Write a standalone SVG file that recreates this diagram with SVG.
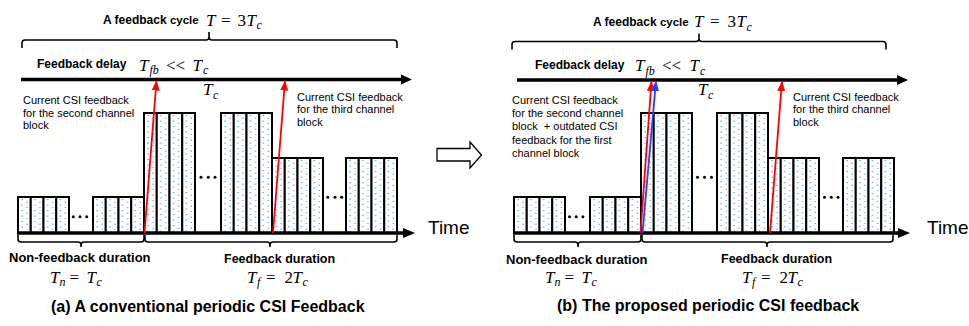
<svg xmlns="http://www.w3.org/2000/svg" width="969" height="326" viewBox="0 0 969 326">
<style>
.t{font-family:"Liberation Sans",Arial,sans-serif;font-size:11px;fill:#000}
.tm{font-family:"Liberation Sans",Arial,sans-serif;font-size:19px;fill:#000}
.b{font-family:"Liberation Sans",Arial,sans-serif;font-weight:bold;fill:#000}
.m{font-family:"Liberation Serif","DejaVu Serif",serif;font-style:italic;font-size:17px;fill:#000}
.s{font-size:12px}
.u{font-style:normal}
.col{fill:url(#dots);stroke:#000;stroke-width:2}
.brace{fill:none;stroke:#000;stroke-width:1.6}
.ax{stroke:#000;stroke-width:3.5}
.red{stroke:#ff0000;stroke-width:1.8;marker-end:url(#ahR)}
.blue{stroke:#2a3cff;stroke-width:1.8;marker-end:url(#ahB)}
.dd{fill:#000}
</style>
<defs>
<pattern id="dots" patternUnits="userSpaceOnUse" width="12.75" height="11">
<rect width="12.75" height="11" fill="#fff"/>
<rect x="3.5" y="2" width="1.2" height="1.2" fill="#3f8ef0"/>
<rect x="8.5" y="4.6" width="1.2" height="1.2" fill="#3f8ef0"/>
<rect x="3.5" y="7.5" width="1.2" height="1.2" fill="#3f8ef0"/>
<rect x="8.5" y="10.1" width="1.2" height="0.9" fill="#3f8ef0"/>
</pattern>
<marker id="ahR" markerUnits="userSpaceOnUse" markerWidth="10" markerHeight="8" refX="10" refY="4" orient="auto"><path d="M0,0 L10,4 L0,8 z" fill="#ff0000"/></marker>
<marker id="ahB" markerUnits="userSpaceOnUse" markerWidth="10" markerHeight="8" refX="10" refY="4" orient="auto"><path d="M0,0 L10,4 L0,8 z" fill="#2a3cff"/></marker>
<g id="blk-s"><rect class="col" x="0" y="0" width="12.75" height="36"/><rect class="col" x="12.75" y="0" width="12.75" height="36"/><rect class="col" x="25.5" y="0" width="12.75" height="36"/><rect class="col" x="38.25" y="0" width="12.75" height="36"/></g>
<g id="blk-t"><rect class="col" x="0" y="0" width="12.75" height="120"/><rect class="col" x="12.75" y="0" width="12.75" height="120"/><rect class="col" x="25.5" y="0" width="12.75" height="120"/><rect class="col" x="38.25" y="0" width="12.75" height="120"/></g>
<g id="blk-m"><rect class="col" x="0" y="0" width="12.75" height="75"/><rect class="col" x="12.75" y="0" width="12.75" height="75"/><rect class="col" x="25.5" y="0" width="12.75" height="75"/><rect class="col" x="38.25" y="0" width="12.75" height="75"/></g>
</defs>
<rect width="969" height="326" fill="#fff"/>

<!-- ===== Panel (a) ===== -->
<g id="a-blocks">
<g id="a-g1"><use href="#blk-s" transform="translate(18,197)"/></g>
<g id="a-g2"><use href="#blk-s" transform="translate(93,197)"/></g>
<g id="a-g3"><use href="#blk-t" transform="translate(144,113)"/></g>
<g id="a-g4"><use href="#blk-t" transform="translate(221,113)"/></g>
<g id="a-g5"><use href="#blk-m" transform="translate(272,158)"/></g>
<g id="a-g6"><use href="#blk-m" transform="translate(346,158)"/></g>
<g id="a-dots" class="dd">
<circle cx="73.3" cy="216.7" r="1.5"/><circle cx="80" cy="216.7" r="1.5"/><circle cx="86.7" cy="216.7" r="1.5"/>
<circle cx="201" cy="177.3" r="1.5"/><circle cx="208.3" cy="177.3" r="1.5"/><circle cx="215" cy="177.3" r="1.5"/>
<circle cx="327.7" cy="197.3" r="1.5"/><circle cx="335" cy="197.3" r="1.5"/><circle cx="341.7" cy="197.3" r="1.5"/>
</g>
</g>

<g id="a-title">
<text class="b" x="103" y="24" font-size="12">A feedback <tspan font-size="11.5">cycle</tspan></text>
<text class="m" y="25.5"><tspan x="206">T</tspan><tspan x="221" class="u">=</tspan><tspan x="237.5" class="u">3</tspan><tspan x="246.5">T</tspan><tspan x="256.5" dy="3.5" class="s">c</tspan></text>
<path class="brace" d="M22,48 L22,43 Q22,40 25,40 L206,40 Q209,40 209,37 L209,32 M209,37 Q209,40 212,40 L394,40 Q397,40 397,43 L397,48"/>
</g>
<g id="a-delay">
<text class="b" x="37" y="68" font-size="12">Feedback delay</text>
<text class="m" y="70.5"><tspan x="139">T</tspan><tspan x="149.5" dy="3.5" class="s">fb</tspan><tspan x="166" dy="-3.5" class="u">&lt;&lt;</tspan><tspan x="192.5">T</tspan><tspan x="203" dy="3.5" class="s">c</tspan></text>
<text class="m" y="95"><tspan x="203">T</tspan><tspan x="213" dy="3.5" class="s">c</tspan></text>
</g>
<g id="a-note1">
<text class="t" x="23" y="104">Current CSI feedback</text>
<text class="t" x="23" y="116.5">for the second channel</text>
<text class="t" x="23" y="129">block</text>
</g>
<g id="a-note2">
<text class="t" x="297" y="100.5">Current CSI feedback</text>
<text class="t" x="297" y="113">for the third channel</text>
<text class="t" x="297" y="125.5">block</text>
</g>
<g id="a-bottom">
<path class="brace" d="M18,235 L18,239 Q18,242 21,242 L78,242 Q81,242 81,245 L81,247 M81,245 Q81,242 84,242 L141,242 Q144,242 144,239 L144,235"/>
<path class="brace" d="M145,235 L145,239 Q145,242 148,242 L267,242 Q270,242 270,245 L270,247 M270,245 Q270,242 273,242 L394,242 Q397,242 397,239 L397,235"/>
<text class="b" x="9" y="262" font-size="13">Non-feedback duration</text>
<text class="m" y="282.5"><tspan x="50">T</tspan><tspan x="59.5" dy="3.5" class="s">n</tspan><tspan x="69.5" dy="-3.5" class="u">=</tspan><tspan x="86.5">T</tspan><tspan x="96.5" dy="3.5" class="s">c</tspan></text>
<text class="b" x="224" y="263" font-size="12.5">Feedback duration</text>
<text class="m" y="282.5"><tspan x="247">T</tspan><tspan x="257" dy="3.5" class="s">f</tspan><tspan x="266" dy="-3.5" class="u">=</tspan><tspan x="284.5" class="u">2</tspan><tspan x="292.5">T</tspan><tspan x="302.5" dy="3.5" class="s">c</tspan></text>
<text class="b" x="51" y="312" font-size="16">(a) A conventional periodic CSI Feedback</text>
</g>
<g id="a-time"><text class="tm" x="428" y="234">Time</text></g>

<!-- ===== Panel (b) ===== -->
<g id="b-blocks">
<g id="b-g1"><use href="#blk-s" transform="translate(514,197)"/></g>
<g id="b-g2"><use href="#blk-s" transform="translate(590,197)"/></g>
<g id="b-g3"><use href="#blk-t" transform="translate(641,113)"/></g>
<g id="b-g4"><use href="#blk-t" transform="translate(717,113)"/></g>
<g id="b-g5"><use href="#blk-m" transform="translate(768,158)"/></g>
<g id="b-g6"><use href="#blk-m" transform="translate(843,158)"/></g>
<g id="b-dots" class="dd">
<circle cx="569.5" cy="216.7" r="1.5"/><circle cx="576.2" cy="216.7" r="1.5"/><circle cx="582.9" cy="216.7" r="1.5"/>
<circle cx="697.5" cy="177.3" r="1.5"/><circle cx="704.5" cy="177.3" r="1.5"/><circle cx="711.5" cy="177.3" r="1.5"/>
<circle cx="824.5" cy="197.3" r="1.5"/><circle cx="831.3" cy="197.3" r="1.5"/><circle cx="838" cy="197.3" r="1.5"/>
</g>
</g>
<g id="b-title">
<text class="b" x="593" y="26" font-size="12">A feedback <tspan font-size="11.5">cycle</tspan></text>
<text class="m" y="27"><tspan x="694">T</tspan><tspan x="710" class="u">=</tspan><tspan x="727.5" class="u">3</tspan><tspan x="736.5">T</tspan><tspan x="746.5" dy="3.5" class="s">c</tspan></text>
<path class="brace" d="M512,49.5 L512,44.5 Q512,41.5 515,41.5 L696,41.5 Q699,41.5 699,38.5 L699,33.5 M699,38.5 Q699,41.5 702,41.5 L883,41.5 Q886,41.5 886,44.5 L886,49.5"/>
</g>
<g id="b-delay">
<text class="b" x="535" y="68.5" font-size="12">Feedback delay</text>
<text class="m" y="71"><tspan x="635">T</tspan><tspan x="645.5" dy="3.5" class="s">fb</tspan><tspan x="662" dy="-3.5" class="u">&lt;&lt;</tspan><tspan x="689.5">T</tspan><tspan x="700" dy="3.5" class="s">c</tspan></text>
<text class="m" y="95"><tspan x="698">T</tspan><tspan x="708" dy="3.5" class="s">c</tspan></text>
</g>
<g id="b-note1">
<text class="t" x="512" y="104">Current CSI feedback</text>
<text class="t" x="512" y="117">for the second channel</text>
<text class="t" x="512" y="130" style="white-space:pre">block  + outdated CSI</text>
<text class="t" x="512" y="143.5">feedback for the first</text>
<text class="t" x="512" y="156.5">channel block</text>
</g>
<g id="b-note2">
<text class="t" x="793" y="100.5">Current CSI feedback</text>
<text class="t" x="793" y="113">for the third channel</text>
<text class="t" x="793" y="125.5">block</text>
</g>
<g id="b-bottom">
<path class="brace" d="M514,235 L514,239 Q514,242 517,242 L575,242 Q578,242 578,245 L578,247 M578,245 Q578,242 581,242 L638,242 Q641,242 641,239 L641,235"/>
<path class="brace" d="M642,235 L642,239 Q642,242 645,242 L764,242 Q767,242 767,245 L767,247 M767,245 Q767,242 770,242 L890,242 Q893,242 893,239 L893,235"/>
<text class="b" x="506" y="264" font-size="13">Non-feedback duration</text>
<text class="m" y="282.5"><tspan x="545">T</tspan><tspan x="554.5" dy="3.5" class="s">n</tspan><tspan x="564.5" dy="-3.5" class="u">=</tspan><tspan x="581.5">T</tspan><tspan x="591.5" dy="3.5" class="s">c</tspan></text>
<text class="b" x="721" y="263" font-size="12.5">Feedback duration</text>
<text class="m" y="282.5"><tspan x="742">T</tspan><tspan x="752" dy="3.5" class="s">f</tspan><tspan x="761" dy="-3.5" class="u">=</tspan><tspan x="779.5" class="u">2</tspan><tspan x="787.5">T</tspan><tspan x="797.5" dy="3.5" class="s">c</tspan></text>
<text class="b" x="557" y="311" font-size="16">(b) The proposed periodic CSI feedback</text>
</g>
<g id="b-time"><text class="tm" x="927" y="234">Time</text></g>

<!-- ===== Middle arrow ===== -->
<g id="transition">
<polygon points="437,148.5 470,148.5 470,142 481.5,155 470,168 470,161 437,161" fill="#fff" stroke="#000" stroke-width="1.3"/>
</g>

<!-- ===== Connectors ===== -->
<g id="connectors">
<line class="ax" x1="21" y1="79.5" x2="403" y2="79.5"/>
<polygon points="401,74.5 412,79.5 401,84.5" fill="#000"/>
<line class="ax" x1="17" y1="233" x2="405" y2="233"/>
<polygon points="403,228 415,233 403,238" fill="#000"/>
<line class="red" x1="144.5" y1="233" x2="156.5" y2="80.5"/>
<line class="red" x1="273" y1="233" x2="285" y2="80.5"/>

<line class="ax" x1="517" y1="80" x2="899" y2="80"/>
<polygon points="897,75 908,80 897,85" fill="#000"/>
<line class="ax" x1="513" y1="233" x2="900" y2="233"/>
<polygon points="898,228 910,233 898,238" fill="#000"/>
<line class="red" x1="640.5" y1="233" x2="651.5" y2="81"/>
<line class="blue" x1="642.5" y1="233" x2="656" y2="81"/>
<line class="red" x1="770" y1="233" x2="782" y2="81"/>
</g>
</svg>
